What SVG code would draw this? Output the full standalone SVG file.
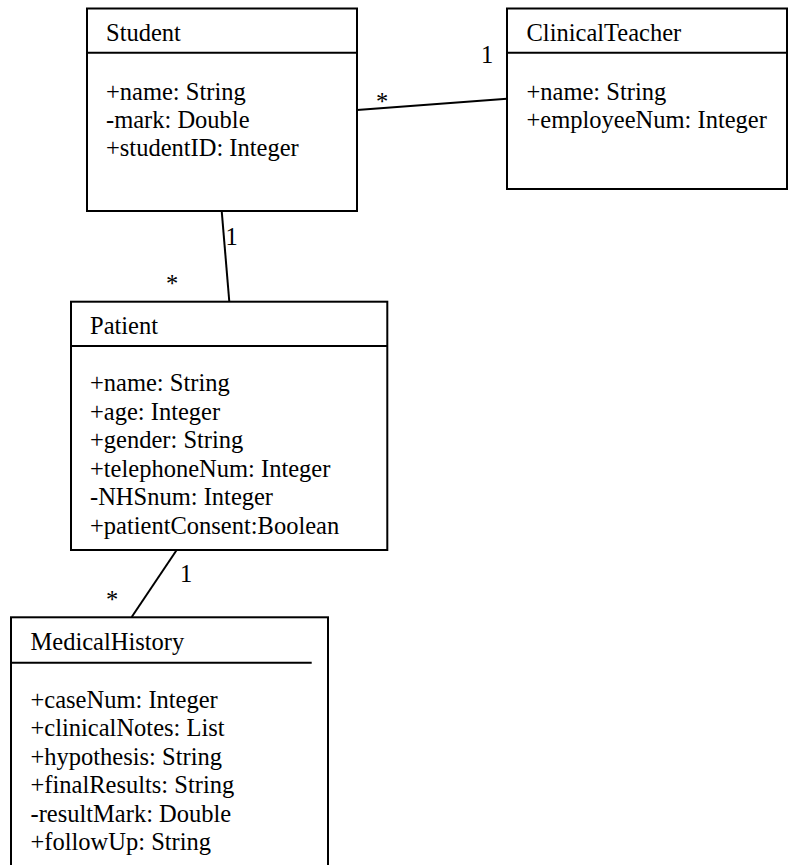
<svg xmlns="http://www.w3.org/2000/svg" width="788" height="865" viewBox="0 0 788 865">
  <style>
    .box { fill: #ffffff; stroke: #000000; stroke-width: 2; }
    .div { stroke: #000000; stroke-width: 2; fill: none; }
    .conn { stroke: #000000; stroke-width: 2; fill: none; }
    text { font-family: "Liberation Serif", "Times New Roman", serif; font-size: 24.5px; fill: #000000; }
  </style>
  <rect width="788" height="865" fill="#ffffff"/>

  <!-- associations with their multiplicities -->
  <g id="connectors">
    <line class="conn" x1="357" y1="110" x2="507" y2="98.7"/>
    <line class="conn" x1="221.7" y1="211" x2="229.3" y2="301.5"/>
    <line class="conn" x1="176.7" y1="550" x2="131.7" y2="617"/>
    <text x="481" y="63">1</text>
    <text x="376" y="110">*</text>
    <text x="225.5" y="245">1</text>
    <text x="166" y="292">*</text>
    <text x="180" y="582">1</text>
    <text x="106" y="608">*</text>
  </g>

  <g id="student">
    <rect class="box" x="87" y="8.5" width="270" height="202.5"/>
    <line class="div" x1="87" y1="52.7" x2="357" y2="52.7"/>
    <text x="106" y="41">Student</text>
    <text x="106" y="100">+name: String</text>
    <text x="106" y="128">-mark: Double</text>
    <text x="106" y="156">+studentID: Integer</text>
  </g>

  <g id="clinical-teacher">
    <rect class="box" x="507" y="8.5" width="280" height="180.5"/>
    <line class="div" x1="507" y1="52.7" x2="787" y2="52.7"/>
    <text x="526.5" y="41">ClinicalTeacher</text>
    <text x="526.5" y="100">+name: String</text>
    <text x="526.5" y="128">+employeeNum: Integer</text>
  </g>

  <g id="patient">
    <rect class="box" x="71" y="301.7" width="316.3" height="248.3"/>
    <line class="div" x1="71" y1="346" x2="387.3" y2="346"/>
    <text x="90" y="334">Patient</text>
    <text x="90" y="391">+name: String</text>
    <text x="90" y="419.5">+age: Integer</text>
    <text x="90" y="448">+gender: String</text>
    <text x="90" y="476.5">+telephoneNum: Integer</text>
    <text x="90" y="505">-NHSnum: Integer</text>
    <text x="90" y="533.5">+patientConsent:Boolean</text>
  </g>

  <g id="medical-history">
    <rect class="box" x="11" y="617.3" width="317" height="260"/>
    <line class="div" x1="11" y1="662.7" x2="311.7" y2="662.7"/>
    <text x="30.5" y="650">MedicalHistory</text>
    <text x="30.5" y="707.5">+caseNum: Integer</text>
    <text x="30.5" y="736">+clinicalNotes: List</text>
    <text x="30.5" y="764.5">+hypothesis: String</text>
    <text x="30.5" y="793">+finalResults: String</text>
    <text x="30.5" y="821.5">-resultMark: Double</text>
    <text x="30.5" y="850">+followUp: String</text>
  </g>
</svg>
